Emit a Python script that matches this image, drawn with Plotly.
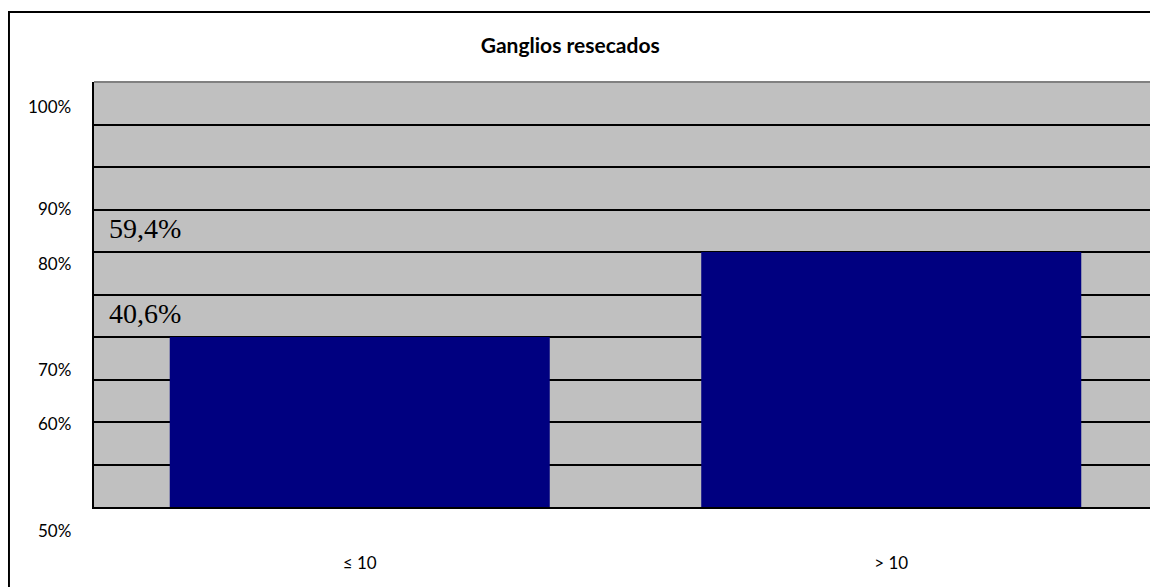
import plotly.graph_objects as go

# ---- data ----
categories = ["≤ 10", "> 10"]
bar_values = [70, 80]                 # read against the 50%–100% grid
bar_text = ["40,6%", "59,4%"]         # labels printed above each bar level
ytick_labels = ["100%", "90%", "80%", "70%", "60%", "50%"]
title_text = "Ganglios resecados"

# ---- layout helpers (positions / styles) ----
ytick_label_pos = [0.9412, 0.7012, 0.5741, 0.3224, 0.1953, -0.0553]  # paper y of each label
label_offset = 2.8

GRAY = "#C0C0C0"
NAVY = "#000080"
SANS = "Lato"

fig = go.Figure()
fig.add_trace(go.Bar(
    x=categories, y=bar_values,
    base=0,
    marker=dict(color=NAVY, line=dict(width=0)),
    hoverinfo="skip",
))

annotations = []
for lab, pos in zip(ytick_labels, ytick_label_pos):
    annotations.append(dict(
        text=lab, xref="paper", yref="paper", x=-0.0195, y=pos,
        xanchor="right", yanchor="middle", showarrow=False,
        font=dict(family=SANS, size=17, color="#000000"),
    ))
for txt, v in zip(bar_text, bar_values):
    annotations.append(dict(
        text=txt, xref="paper", yref="y", x=0.0125, y=v + label_offset,
        xanchor="left", yanchor="middle", showarrow=False,
        font=dict(family="Liberation Serif", size=28, color="#000000"),
    ))

shapes = [
    # outer chart frame
    dict(type="rect", xref="paper", yref="paper",
         x0=-0.0800, x1=1.01, y0=-0.25, y1=1.1647,
         line=dict(color="#000000", width=2), layer="above"),
    # plot area top / right border (gray)
    dict(type="line", xref="paper", yref="paper", x0=0, x1=1, y0=1, y1=1,
         line=dict(color="#808080", width=2), layer="above"),
    dict(type="line", xref="paper", yref="paper", x0=1, x1=1, y0=0, y1=1,
         line=dict(color="#808080", width=2), layer="above"),
]

# the page body adds an 8px margin, so the figure is 8px smaller each way
fig.update_layout(
    width=1150, height=579,
    margin=dict(l=86, r=1, t=74, b=80),
    paper_bgcolor="#FFFFFF",
    plot_bgcolor=GRAY,
    bargap=0.285,
    showlegend=False,
    title=dict(text="<b>" + title_text + "</b>", x=0.448, xref="paper",
               y=0.9344, yref="container", xanchor="center", yanchor="middle",
               font=dict(family=SANS, size=21, color="#000000")),
    annotations=annotations,
    shapes=shapes,
    xaxis=dict(showgrid=False, zeroline=False, showline=True,
               linecolor="#000000", linewidth=2, ticks="",
               ticklabelstandoff=40,
               tickfont=dict(family=SANS, size=17, color="#000000")),
    yaxis=dict(range=[50, 100], dtick=5, showgrid=True, gridcolor="#000000",
               gridwidth=2, zeroline=False, showline=True, linecolor="#000000",
               linewidth=2, showticklabels=False, ticks=""),
)

fig.write_html("out.html")
